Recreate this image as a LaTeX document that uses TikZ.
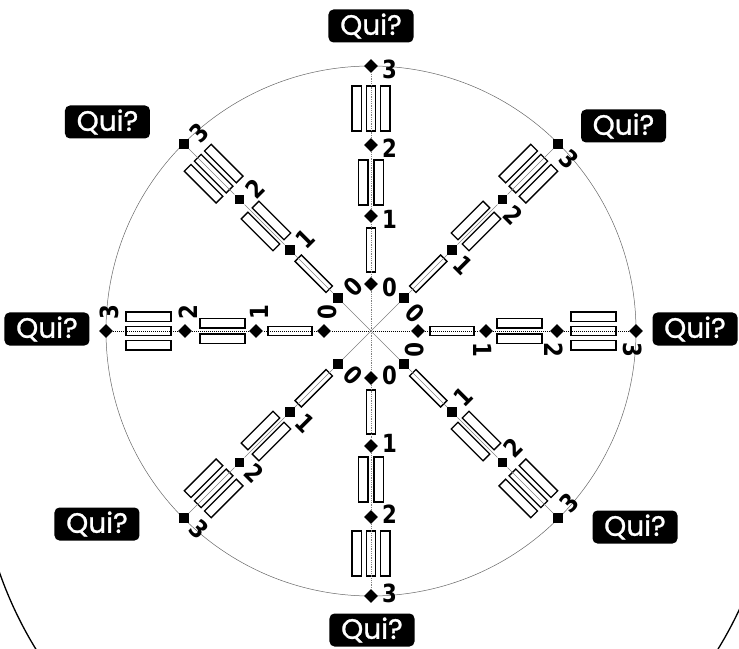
\documentclass[tikz,border=0pt]{standalone}
\usepackage{fontspec}
\usetikzlibrary{shapes.geometric, calc}
\newfontfamily\quifont[FakeBold=1]{Poppins}
\newfontfamily\numfont[FakeStretch=0.85]{DejaVu Sans}

\begin{document}
\begin{tikzpicture}[
			x=1pt, y=1pt,
			qui/.style={rectangle, fill=black, rounded corners=5pt,
				minimum width=85pt, minimum height=33pt, inner sep=0pt,
				text=white, font=\quifont\fontsize{28}{28}\selectfont},
			marker/.style={diamond, fill=black, minimum width=14pt,
				minimum height=14pt, inner sep=0pt},
			num/.style={inner sep=0pt, anchor=west,
				font=\numfont\bfseries\fontsize{25}{25}\selectfont},
			card/.style={draw, line width=1.3pt},
			hline/.style={densely dotted, line width=1pt},
			vline/.style={densely dotted, gray, line width=0.8pt},
			dline/.style={gray, line width=0.6pt}
			]
			\clip (-371,-317) rectangle (368,331);
			\coordinate (c) at (0,0);
			
			% table and circle
			\draw[line width=1.3pt] (6,-109) ++(190:400) arc[start angle=190, end angle=350, radius=400];
			\draw[gray!80!black, line width=0.5pt] (c) circle[radius=265];
			
			% spokes
			\foreach \a/\s/\ln in {0/-90/hline, 180/-90/hline, 90/-90/vline, 270/90/vline,
				45/-90/dline, 135/-90/dline, 225/90/dline, 315/90/dline}{
				\begin{scope}[rotate=\a]
					\draw[card] (59,-4.5) rectangle (103,4.5);
					\draw[card] (126,3) rectangle (171,12.5);
					\draw[card] (126,-12.5) rectangle (171,-3);
					\draw[card] (200,-4.75) rectangle (245,4.75);
					\draw[card] (200,9.5) rectangle (245,19);
					\draw[card] (200,-19) rectangle (245,-9.5);
				\end{scope}
				\foreach \k/\r in {0/47, 1/115, 2/186, 3/265}{
					\node[marker, rotate=\a] (m\a-\k) at (\a:\r) {};
					% the 0 of the lower right spoke sits under the 0 of the right one
					\pgfmathtruncatemacro\hide{and(\a==315, \k==0)}
					\ifnum\hide=0
						\node[num, rotate=\a+\s] (n\a-\k) at ($(m\a-\k)+(\a:-3)+(\a+\s:11)$) {\k};
					\fi
				}
				\draw[\ln] (c) -- (m\a-0) -- (m\a-1) -- (m\a-2) -- (m\a-3);
			}
			
			% players
			\node[qui] (qn) at (0,305) {Qui?};
			\node[qui] (qnw) at (-263.5,209) {Qui?};
			\node[qui] (qne) at (252.5,205) {Qui?};
			\node[qui] (qw) at (-324,2) {Qui?};
			\node[qui] (qe) at (324,2) {Qui?};
			\node[qui] (qsw) at (-274,-193) {Qui?};
			\node[qui] (qse) at (264,-196) {Qui?};
			\node[qui] (qs) at (1,-299) {Qui?};
		\end{tikzpicture}
\end{document}
